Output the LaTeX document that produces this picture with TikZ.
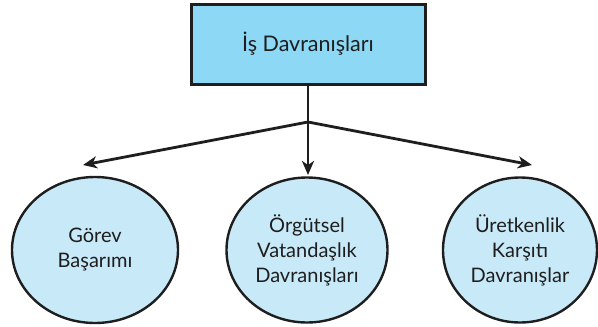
\documentclass[tikz,border=0pt]{standalone}
\usepackage{fontspec}
\setmainfont{Lato}
\usetikzlibrary{arrows.meta,shapes.geometric}
\definecolor{boxblue}{HTML}{8DD8F5}
\definecolor{ellblue}{HTML}{C8E9F8}
\definecolor{ink}{HTML}{1E1E1E}
\begin{document}
\begin{tikzpicture}[x=1pt,y=-1pt,
  topbox/.style={draw=ink,line width=3pt,fill=boxblue,minimum width=234pt,minimum height=80pt,inner sep=0pt,font=\fontsize{21.5}{25}\selectfont,text=ink},
  oval/.style={ellipse,draw=ink,line width=2.4pt,fill=ellblue,inner sep=0pt,align=center,font=\fontsize{20}{25}\selectfont,text=ink},
  conn/.style={draw=ink,line width=2.8pt},
  arr/.style={conn,-{Stealth[length=14pt,width=12pt,inset=4pt]}}]
\useasboundingbox (0,0) rectangle (598,327);
\node[topbox] (top) at (308,44) {İş Davranışları};
\coordinate (j) at (308,122);
\node[oval,minimum width=166pt,minimum height=146pt] (e1) at (95,250) {Görev\\Başarımı};
\node[oval,minimum width=161pt,minimum height=145pt] (e2) at (307,250) {Örgütsel\\Vatandaşlık\\Davranışları};
\node[oval,minimum width=154pt,minimum height=145pt] (e3) at (520,250) {Üretkenlik\\Karşıtı\\Davranışlar};
\coordinate (a1) at (83,165);
\coordinate (a2) at (308,175);
\coordinate (a3) at (532,165);
\path[conn] (top.south) -- (j);
\path[arr] (j) -- (a1);
\path[arr] (j) -- (a2);
\path[arr] (j) -- (a3);
\end{tikzpicture}
\end{document}
